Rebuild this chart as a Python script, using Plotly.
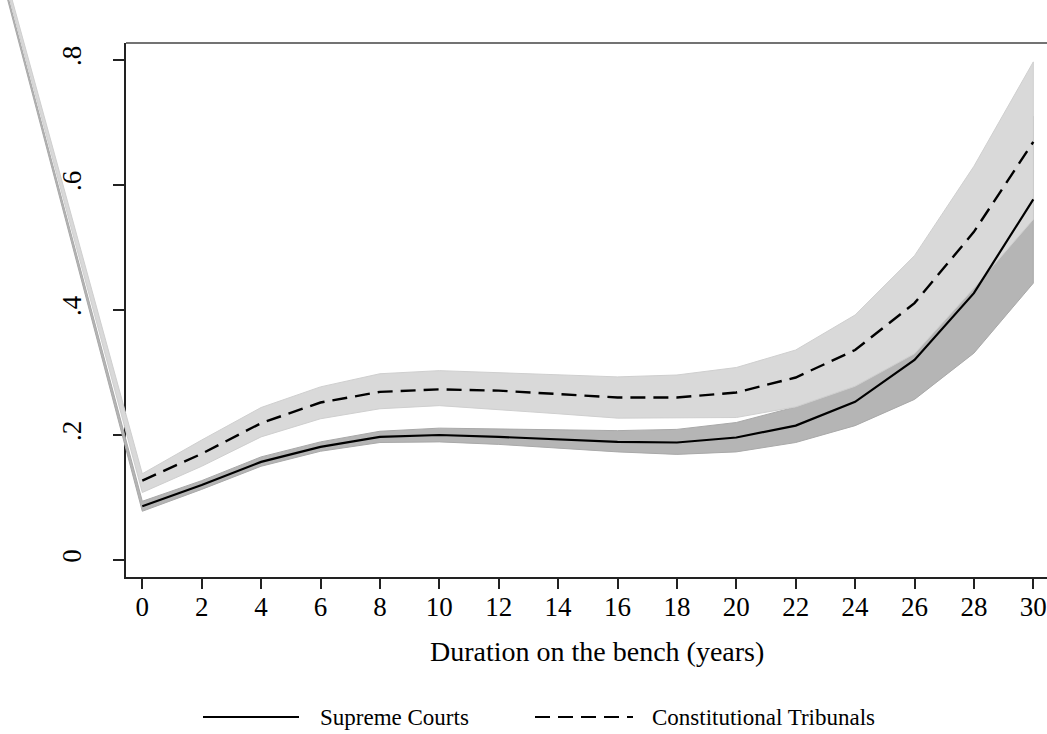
import plotly.graph_objects as go

# ---------------- data ----------------
years = [0, 2, 4, 6, 8, 10, 12, 14, 16, 18, 20, 22, 24, 26, 28, 30]

sc_est = [0.086, 0.120, 0.157, 0.181, 0.197, 0.200, 0.197, 0.193, 0.189, 0.188, 0.196, 0.215, 0.253, 0.320, 0.427, 0.577]
sc_lo = [0.078, 0.113, 0.150, 0.174, 0.188, 0.189, 0.185, 0.179, 0.173, 0.169, 0.173, 0.188, 0.215, 0.257, 0.331, 0.443]
sc_hi = [0.094, 0.127, 0.165, 0.189, 0.206, 0.211, 0.210, 0.208, 0.207, 0.209, 0.220, 0.245, 0.295, 0.390, 0.525, 0.710]

ct_est = [0.127, 0.170, 0.219, 0.252, 0.269, 0.273, 0.271, 0.266, 0.260, 0.260, 0.268, 0.292, 0.336, 0.411, 0.525, 0.669]
ct_lo = [0.108, 0.150, 0.197, 0.226, 0.242, 0.247, 0.241, 0.234, 0.227, 0.227, 0.228, 0.245, 0.278, 0.330, 0.435, 0.545]
ct_hi = [0.138, 0.192, 0.244, 0.277, 0.298, 0.303, 0.300, 0.297, 0.293, 0.296, 0.308, 0.336, 0.392, 0.487, 0.630, 0.797]

# stray polygon vertex of the confidence areas (artifact in the original)
stray_x = -8.1
stray_y = 1.54

series_names = ["Supreme Courts", "Constitutional Tribunals"]
x_ticks = list(range(0, 31, 2))
y_ticks = [0, 0.2, 0.4, 0.6, 0.8]
y_ticklabels = ["0", ".2", ".4", ".6", ".8"]
x_title = "Duration on the bench (years)"

# ---------------- layout geometry (pixels) ----------------
W, H = 1047, 734
X0PX, XPXU = 142.3, 29.7     # pixel of x=0, pixels per year
Y0PX, YPXU = 560.0, 625.0    # pixel of y=0, pixels per unit
PL, PR, PT, PB = 126, 1047, 43, 577  # plot area edges

def xv(px):
    return (px - X0PX) / XPXU

def yv(py):
    return (Y0PX - py) / YPXU

FONT = "Liberation Serif, Times New Roman, serif"
FS_TICK = 27
FS_TITLE = 28
FS_LEG = 23

fig = go.Figure()

# dummy trace to establish main axes
fig.add_trace(go.Scatter(x=[], y=[], xaxis="x", yaxis="y", showlegend=False, hoverinfo="skip"))

def band(lo, hi, fill, edge):
    xs = [stray_x] + years + years[::-1] + [stray_x]
    ys = [stray_y] + hi + lo[::-1] + [stray_y]
    return go.Scatter(x=xs, y=ys, xaxis="x2", yaxis="y2", mode="lines", fill="toself",
                      fillcolor=fill, line=dict(color=edge, width=1),
                      showlegend=False, hoverinfo="skip")

fig.add_trace(band(sc_lo, sc_hi, "#b5b5b5", "#a9a9a9"))
fig.add_trace(band(ct_lo, ct_hi, "#d9d9d9", "#cfcfcf"))

fig.add_trace(go.Scatter(x=years, y=sc_est, xaxis="x2", yaxis="y2", mode="lines",
                         line=dict(color="black", width=2.2), name=series_names[0], showlegend=False))
fig.add_trace(go.Scatter(x=years, y=ct_est, xaxis="x2", yaxis="y2", mode="lines",
                         line=dict(color="black", width=2.4, dash="15px,8px"), name=series_names[1],
                         showlegend=False))

fig.update_layout(
    width=W, height=H,
    margin=dict(l=0, r=0, t=0, b=0),
    template="none",
    paper_bgcolor="white", plot_bgcolor="rgba(0,0,0,0)",
    font=dict(family=FONT, size=FS_TICK, color="black"),
    showlegend=False,
    xaxis=dict(domain=[PL / W, PR / W], range=[xv(PL), xv(PR)], tickvals=x_ticks,
               ticks="outside", ticklen=10, tickwidth=1.5, tickcolor="#222",
               showline=True, linecolor="#222", linewidth=2, mirror=False,
               showgrid=False, zeroline=False, automargin=False,
               ticklabelstandoff=-5, tickfont=dict(family=FONT, size=FS_TICK)),
    yaxis=dict(domain=[1 - PB / H, 1 - PT / H], range=[yv(PB), yv(PT)], tickvals=y_ticks,
               ticktext=y_ticklabels, tickangle=-90,
               ticks="outside", ticklen=11, tickwidth=1.5, tickcolor="#222",
               showline=True, linecolor="#222", linewidth=2,
               showgrid=False, zeroline=False, automargin=False,
               ticklabelstandoff=21, tickfont=dict(family=FONT, size=FS_TICK)),
    xaxis2=dict(domain=[0, 1], range=[xv(0), xv(W)], visible=False, anchor="y2"),
    yaxis2=dict(domain=[0, 1], range=[yv(H), yv(0)], visible=False, anchor="x2"),
)

# top border of plot region
fig.add_shape(type="line", xref="paper", yref="paper", x0=PL / W, x1=1, y0=1 - PT / H, y1=1 - PT / H,
              line=dict(color="#444", width=1.5))

# x axis title
fig.add_annotation(text=x_title, xref="paper", yref="paper", x=597 / W, y=1 - 651 / H,
                   showarrow=False, xanchor="center", yanchor="middle",
                   font=dict(family=FONT, size=FS_TITLE))

# legend (drawn manually for long keys)
LY = 1 - 717 / H
fig.add_shape(type="line", xref="paper", yref="paper", x0=203 / W, x1=299 / W, y0=LY, y1=LY,
              line=dict(color="black", width=2.2))
fig.add_annotation(text=series_names[0], xref="paper", yref="paper", x=318 / W, y=LY,
                   showarrow=False, xanchor="left", yanchor="middle", font=dict(family=FONT, size=FS_LEG))
fig.add_shape(type="line", xref="paper", yref="paper", x0=535 / W, x1=633 / W, y0=LY, y1=LY,
              line=dict(color="black", width=2.2, dash="15px,8px"))
fig.add_annotation(text=series_names[1], xref="paper", yref="paper", x=650 / W, y=LY,
                   showarrow=False, xanchor="left", yanchor="middle", font=dict(family=FONT, size=FS_LEG))

fig.write_html("out.html", config={"displayModeBar": False},
               post_script="document.body.style.margin='0px';")
